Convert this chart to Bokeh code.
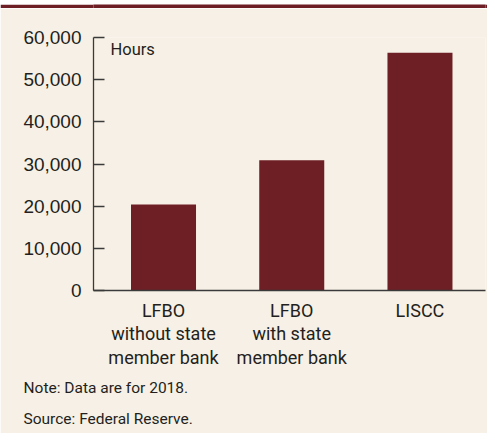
from bokeh.plotting import figure
from bokeh.layouts import column
from bokeh.models import Range1d, FixedTicker, NumeralTickFormatter, Label, Title
from bokeh.embed import file_html
from bokeh.resources import INLINE

categories = ["LFBO\nwithout state\nmember bank", "LFBO\nwith state\nmember bank", "LISCC"]
hours = [20400, 30900, 56400]
y_ticks = [0, 10000, 20000, 30000, 40000, 50000, 60000]
notes = ["Note: Data are for 2018.", "Source: Federal Reserve."]

BG = "#F7F0E6"
BAR = "#6E1F25"
TXT = "#231F20"
AX = "#3A3A3A"
COND = "Roboto"
REG = "Liberation Sans"

xs = list(range(len(categories)))

band = figure(width=487, height=8, output_backend="svg", toolbar_location=None,
              x_axis_location=None, y_axis_location=None, min_border=0,
              x_range=Range1d(0, 1), y_range=Range1d(0, 1))
band.background_fill_color = BAR
band.border_fill_color = BAR
band.outline_line_color = None
band.grid.visible = False

p = figure(width=487, height=425, output_backend="svg", toolbar_location=None,
           x_range=Range1d(-0.546, 2.511), y_range=Range1d(0, 60000),
           min_border_left=93, min_border_right=2, min_border_top=29, min_border_bottom=143)
p.background_fill_color = BG
p.border_fill_color = BG
p.outline_line_color = None
p.grid.visible = False

p.vbar(x=xs, top=hours, width=0.507, bottom=0, color=BAR, line_color=None)

ya = p.yaxis[0]
ya.ticker = FixedTicker(ticks=y_ticks)
ya.formatter = NumeralTickFormatter(format="0,0")
ya.major_tick_in = 11
ya.major_tick_out = 0
ya.minor_tick_line_color = None
ya.axis_line_color = AX
ya.major_tick_line_color = AX
ya.axis_line_width = 1.3
ya.major_tick_line_width = 1.3
ya.major_label_standoff = 12
ya.major_label_text_font = REG
ya.major_label_text_font_size = "19px"
ya.major_label_text_color = TXT

xa = p.xaxis[0]
xa.ticker = FixedTicker(ticks=xs)
xa.major_label_overrides = {i: c for i, c in zip(xs, categories)}
xa.major_tick_in = 0
xa.major_tick_out = 0
xa.minor_tick_line_color = None
xa.axis_line_color = AX
xa.axis_line_width = 1.3
xa.major_label_standoff = 9
xa.major_label_text_font = COND
xa.major_label_text_font_size = "18px"
xa.major_label_text_line_height = 1.12
xa.major_label_text_color = TXT

p.add_layout(Label(x=17, y=241, x_units="screen", y_units="screen", text="Hours",
                   text_font=COND, text_font_size="16.5px", text_color=TXT,
                   text_baseline="alphabetic"))

standoffs = [12, 11]
for n, s in zip(notes, standoffs):
    p.add_layout(Title(text=n, align="left", offset=-70, standoff=s,
                       text_font=COND, text_font_size="15.5px", text_font_style="normal",
                       text_color=TXT), "below")

open("out.html", "w").write(file_html(column(band, p, spacing=0), INLINE))
